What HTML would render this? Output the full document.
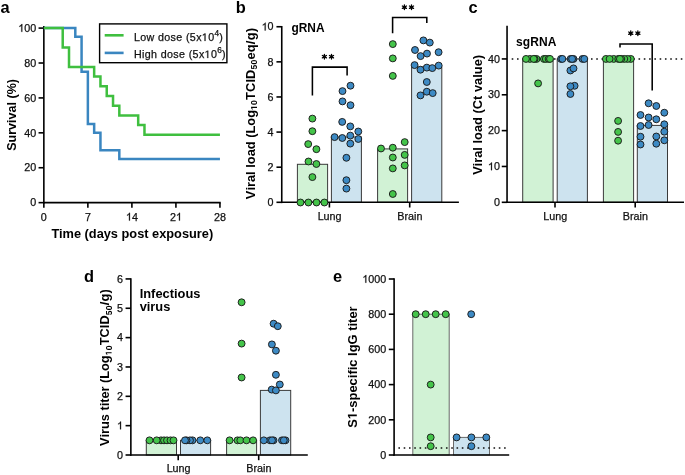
<!DOCTYPE html>
<html><head><meta charset="utf-8"><style>
html,body{margin:0;padding:0;background:#fff;}
svg{display:block;will-change:transform;font-family:"Liberation Sans",sans-serif;}
</style></head><body>
<svg width="685" height="475" viewBox="0 0 685 475">
<rect width="685" height="475" fill="#fff"/>
<rect x="297.40" y="164.30" width="30.20" height="38.00" fill="#d1f2d5" stroke="#3a3a3a" stroke-width="1"/>
<rect x="331.40" y="137.00" width="30.00" height="65.30" fill="#cde3ef" stroke="#3a3a3a" stroke-width="1"/>
<rect x="377.60" y="148.90" width="30.00" height="53.40" fill="#d1f2d5" stroke="#3a3a3a" stroke-width="1"/>
<rect x="411.60" y="67.10" width="30.20" height="135.20" fill="#cde3ef" stroke="#3a3a3a" stroke-width="1"/>
<rect x="522.70" y="58.93" width="30.40" height="143.37" fill="#d1f2d5" stroke="#3a3a3a" stroke-width="1"/>
<rect x="557.20" y="58.93" width="30.20" height="143.37" fill="#cde3ef" stroke="#3a3a3a" stroke-width="1"/>
<rect x="603.40" y="58.93" width="30.20" height="143.37" fill="#d1f2d5" stroke="#3a3a3a" stroke-width="1"/>
<rect x="637.30" y="125.40" width="30.20" height="76.90" fill="#cde3ef" stroke="#3a3a3a" stroke-width="1"/>
<rect x="146.30" y="440.33" width="30.20" height="14.67" fill="#d1f2d5" stroke="#3a3a3a" stroke-width="1"/>
<rect x="180.50" y="440.33" width="30.10" height="14.67" fill="#cde3ef" stroke="#3a3a3a" stroke-width="1"/>
<rect x="226.60" y="440.33" width="30.00" height="14.67" fill="#d1f2d5" stroke="#3a3a3a" stroke-width="1"/>
<rect x="260.40" y="390.40" width="30.30" height="64.60" fill="#cde3ef" stroke="#3a3a3a" stroke-width="1"/>
<rect x="412.80" y="314.20" width="36.40" height="140.80" fill="#d1f2d5" stroke="#6a6a6a" stroke-width="1"/>
<rect x="453.50" y="437.40" width="36.00" height="17.60" fill="#cde3ef" stroke="#6a6a6a" stroke-width="1"/>
<text x="0.40" y="12.60" font-size="16.4" text-anchor="start" font-weight="bold" fill="#000">a</text>
<line x1="43.85" y1="26.00" x2="43.85" y2="203.45" stroke="#000" stroke-width="1.6" />
<line x1="38.55" y1="28.10" x2="43.85" y2="28.10" stroke="#000" stroke-width="1.6" />
<text x="18.26" y="31.80" font-size="10.75" text-anchor="start" font-weight="normal" fill="#111" stroke="#111" stroke-width="0.25">&#8199;00</text>
<path transform="translate(18.26,31.80) scale(0.00525,-0.00525)" d="M763,0H583V1147Q518,1085 412,1023Q306,961 222,930V1104Q373,1175 486,1276Q599,1377 646,1472H763Z" fill="#111" stroke="#111" stroke-width="0.25" vector-effect="non-scaling-stroke"/>
<line x1="38.55" y1="63.01" x2="43.85" y2="63.01" stroke="#000" stroke-width="1.6" />
<text x="24.24" y="66.71" font-size="10.75" text-anchor="start" font-weight="normal" fill="#111" stroke="#111" stroke-width="0.25">80</text>
<line x1="38.55" y1="97.92" x2="43.85" y2="97.92" stroke="#000" stroke-width="1.6" />
<text x="24.24" y="101.62" font-size="10.75" text-anchor="start" font-weight="normal" fill="#111" stroke="#111" stroke-width="0.25">60</text>
<line x1="38.55" y1="132.83" x2="43.85" y2="132.83" stroke="#000" stroke-width="1.6" />
<text x="24.24" y="136.53" font-size="10.75" text-anchor="start" font-weight="normal" fill="#111" stroke="#111" stroke-width="0.25">40</text>
<line x1="38.55" y1="167.74" x2="43.85" y2="167.74" stroke="#000" stroke-width="1.6" />
<text x="24.24" y="171.44" font-size="10.75" text-anchor="start" font-weight="normal" fill="#111" stroke="#111" stroke-width="0.25">20</text>
<line x1="38.55" y1="202.65" x2="43.85" y2="202.65" stroke="#000" stroke-width="1.6" />
<text x="30.22" y="206.35" font-size="10.75" text-anchor="start" font-weight="normal" fill="#111" stroke="#111" stroke-width="0.25">0</text>
<line x1="43.05" y1="202.65" x2="220.74" y2="202.65" stroke="#000" stroke-width="1.6" />
<line x1="43.85" y1="202.65" x2="43.85" y2="207.85" stroke="#000" stroke-width="1.6" />
<line x1="87.87" y1="202.65" x2="87.87" y2="207.85" stroke="#000" stroke-width="1.6" />
<line x1="131.90" y1="202.65" x2="131.90" y2="207.85" stroke="#000" stroke-width="1.6" />
<line x1="175.92" y1="202.65" x2="175.92" y2="207.85" stroke="#000" stroke-width="1.6" />
<line x1="219.94" y1="202.65" x2="219.94" y2="207.85" stroke="#000" stroke-width="1.6" />
<text x="40.86" y="220.60" font-size="10.75" text-anchor="start" font-weight="normal" fill="#111" stroke="#111" stroke-width="0.25">0</text>
<text x="84.88" y="220.60" font-size="10.75" text-anchor="start" font-weight="normal" fill="#111" stroke="#111" stroke-width="0.25">7</text>
<text x="125.92" y="220.60" font-size="10.75" text-anchor="start" font-weight="normal" fill="#111" stroke="#111" stroke-width="0.25">&#8199;4</text>
<path transform="translate(125.92,220.60) scale(0.00525,-0.00525)" d="M763,0H583V1147Q518,1085 412,1023Q306,961 222,930V1104Q373,1175 486,1276Q599,1377 646,1472H763Z" fill="#111" stroke="#111" stroke-width="0.25" vector-effect="non-scaling-stroke"/>
<text x="169.94" y="220.60" font-size="10.75" text-anchor="start" font-weight="normal" fill="#111" stroke="#111" stroke-width="0.25">2&#8199;</text>
<path transform="translate(175.92,220.60) scale(0.00525,-0.00525)" d="M763,0H583V1147Q518,1085 412,1023Q306,961 222,930V1104Q373,1175 486,1276Q599,1377 646,1472H763Z" fill="#111" stroke="#111" stroke-width="0.25" vector-effect="non-scaling-stroke"/>
<text x="213.96" y="220.60" font-size="10.75" text-anchor="start" font-weight="normal" fill="#111" stroke="#111" stroke-width="0.25">28</text>
<text x="132.30" y="237.70" font-size="12.79" text-anchor="middle" font-weight="bold" fill="#000">Time (days post exposure)</text>
<text transform="translate(15.70,114.90) rotate(-90)" font-size="12.55" text-anchor="middle" font-weight="bold" fill="#000">Survival (%)</text>
<path d="M43.85,28.10 L75.30,28.10 L75.30,36.83 L81.58,36.83 L81.58,71.74 L87.87,71.74 L87.87,124.10 L94.16,124.10 L94.16,132.83 L100.45,132.83 L100.45,150.28 L119.32,150.28 L119.32,159.01 L219.94,159.01" fill="none" stroke="#3a86c0" stroke-width="2.5" stroke-linejoin="miter" stroke-linecap="butt"/>
<path d="M43.85,28.10 L62.72,28.10 L62.72,47.49 L69.01,47.49 L69.01,66.89 L94.16,66.89 L94.16,76.59 L100.45,76.59 L100.45,86.28 L106.74,86.28 L106.74,95.98 L113.03,95.98 L113.03,105.67 L119.32,105.67 L119.32,115.38 L138.19,115.38 L138.19,125.08 L144.47,125.08 L144.47,134.77 L219.94,134.77" fill="none" stroke="#3fbf3f" stroke-width="2.5" stroke-linejoin="miter" stroke-linecap="butt"/>
<rect x="99.6" y="23.9" width="127.3" height="38.8" fill="#fff" stroke="#000" stroke-width="1.4"/>
<line x1="104.70" y1="35.30" x2="123.60" y2="35.30" stroke="#3fbf3f" stroke-width="2.6" />
<line x1="104.70" y1="52.90" x2="123.60" y2="52.90" stroke="#3a86c0" stroke-width="2.6" />
<g transform="translate(133.90,40.90)"><text x="0.00 6.31 12.62 20.71 24.04 30.35 36.66 42.37 48.68 52.02 55.94 62.25 67.96 74.27" y="0.00" font-size="10.7" font-weight="normal" fill="#111" stroke="#111" stroke-width="0.25">Low dose (5x&#8199;0</text><path transform="translate(67.96,0.00) scale(0.00522,-0.00522)" d="M515,0H696V1409H530L197,1180V1010L515,1237Z" fill="#111" stroke="#111" stroke-width="0.25" vector-effect="non-scaling-stroke"/><text x="80.58" y="-5.10" font-size="8.3" font-weight="normal" fill="#111" stroke="#111" stroke-width="0.25">4</text><text x="85.30" y="0.00" font-size="10.7" font-weight="normal" fill="#111" stroke="#111" stroke-width="0.25">)</text></g>
<g transform="translate(133.90,58.00)"><text x="0.00 8.09 10.82 17.14 23.45 26.78 33.09 39.40 45.11 51.42 54.75 58.68 64.99 70.70 77.01" y="0.00" font-size="10.7" font-weight="normal" fill="#111" stroke="#111" stroke-width="0.25">High dose (5x&#8199;0</text><path transform="translate(70.70,0.00) scale(0.00522,-0.00522)" d="M515,0H696V1409H530L197,1180V1010L515,1237Z" fill="#111" stroke="#111" stroke-width="0.25" vector-effect="non-scaling-stroke"/><text x="83.32" y="-5.10" font-size="8.3" font-weight="normal" fill="#111" stroke="#111" stroke-width="0.25">6</text><text x="88.04" y="0.00" font-size="10.7" font-weight="normal" fill="#111" stroke="#111" stroke-width="0.25">)</text></g>
<text x="235.80" y="12.60" font-size="16.4" text-anchor="start" font-weight="bold" fill="#000">b</text>
<line x1="281.75" y1="26.00" x2="281.75" y2="203.10" stroke="#000" stroke-width="1.6" />
<line x1="276.45" y1="26.74" x2="281.75" y2="26.74" stroke="#000" stroke-width="1.6" />
<text x="261.64" y="30.44" font-size="10.75" text-anchor="start" font-weight="normal" fill="#111" stroke="#111" stroke-width="0.25">&#8199;0</text>
<path transform="translate(261.64,30.44) scale(0.00525,-0.00525)" d="M763,0H583V1147Q518,1085 412,1023Q306,961 222,930V1104Q373,1175 486,1276Q599,1377 646,1472H763Z" fill="#111" stroke="#111" stroke-width="0.25" vector-effect="non-scaling-stroke"/>
<line x1="276.45" y1="61.85" x2="281.75" y2="61.85" stroke="#000" stroke-width="1.6" />
<text x="267.62" y="65.55" font-size="10.75" text-anchor="start" font-weight="normal" fill="#111" stroke="#111" stroke-width="0.25">8</text>
<line x1="276.45" y1="96.96" x2="281.75" y2="96.96" stroke="#000" stroke-width="1.6" />
<text x="267.62" y="100.66" font-size="10.75" text-anchor="start" font-weight="normal" fill="#111" stroke="#111" stroke-width="0.25">6</text>
<line x1="276.45" y1="132.08" x2="281.75" y2="132.08" stroke="#000" stroke-width="1.6" />
<text x="267.62" y="135.78" font-size="10.75" text-anchor="start" font-weight="normal" fill="#111" stroke="#111" stroke-width="0.25">4</text>
<line x1="276.45" y1="167.19" x2="281.75" y2="167.19" stroke="#000" stroke-width="1.6" />
<text x="267.62" y="170.89" font-size="10.75" text-anchor="start" font-weight="normal" fill="#111" stroke="#111" stroke-width="0.25">2</text>
<line x1="276.45" y1="202.30" x2="281.75" y2="202.30" stroke="#000" stroke-width="1.6" />
<text x="267.62" y="206.00" font-size="10.75" text-anchor="start" font-weight="normal" fill="#111" stroke="#111" stroke-width="0.25">0</text>
<line x1="280.95" y1="202.30" x2="458.90" y2="202.30" stroke="#000" stroke-width="1.6" />
<line x1="329.40" y1="202.30" x2="329.40" y2="207.50" stroke="#000" stroke-width="1.6" />
<line x1="409.70" y1="202.30" x2="409.70" y2="207.50" stroke="#000" stroke-width="1.6" />
<text x="329.60" y="219.70" font-size="10.75" text-anchor="middle" font-weight="normal" fill="#111" stroke="#111" stroke-width="0.25">Lung</text>
<text x="409.90" y="219.70" font-size="10.75" text-anchor="middle" font-weight="normal" fill="#111" stroke="#111" stroke-width="0.25">Brain</text>
<text x="291.40" y="31.70" font-size="11.9" text-anchor="start" font-weight="bold" fill="#000" textLength="33.20" lengthAdjust="spacing">gRNA</text>
<g transform="translate(254.70,113.60) rotate(-90)"><text x="-85.56 -77.00 -73.43 -68.44 -61.30 -57.73 -54.16 -50.59 -42.75 -35.61 -27.77 -24.20 -19.92 -12.08 -4.24" y="0.00" font-size="12.84" font-weight="bold" fill="#000">Viral load (Log</text><text x="3.61 8.64" y="2.30" font-size="8.6" font-weight="bold" fill="#000">&#8199;0</text><path transform="translate(3.61,2.30) scale(0.00420,-0.00420)" d="M478,0H759V1409H493L140,1180V959L478,1170Z" fill="#000"/><text x="13.67 21.62 30.99 34.66" y="0.00" font-size="12.84" font-weight="bold" fill="#000">TCID</text><text x="44.03 49.06" y="2.30" font-size="8.6" font-weight="bold" fill="#000">50</text><text x="54.09 61.44 69.48 73.25 81.29" y="0.00" font-size="12.84" font-weight="bold" fill="#000">eq/g)</text></g>
<path d="M312.4,95.4 V67.1 H347.1 V75.4" fill="none" stroke="#000" stroke-width="1.55"/>
<path d="M324.40,59.05L324.40,54.35 M322.36,57.88L326.44,55.53 M322.36,55.53L326.44,57.88" stroke="#000" stroke-width="1.3" stroke-linecap="round" fill="none"/>
<circle cx="324.40" cy="56.70" r="1.25" fill="#000"/>
<path d="M331.50,59.05L331.50,54.35 M329.46,57.88L333.54,55.53 M329.46,55.53L333.54,57.88" stroke="#000" stroke-width="1.3" stroke-linecap="round" fill="none"/>
<circle cx="331.50" cy="56.70" r="1.25" fill="#000"/>
<path d="M392.6,33.3 V17.5 H426.8 V23.1" fill="none" stroke="#000" stroke-width="1.55"/>
<path d="M404.40,9.55L404.40,4.85 M402.36,8.38L406.44,6.03 M402.36,6.03L406.44,8.38" stroke="#000" stroke-width="1.3" stroke-linecap="round" fill="none"/>
<circle cx="404.40" cy="7.20" r="1.25" fill="#000"/>
<path d="M411.50,9.55L411.50,4.85 M409.46,8.38L413.54,6.03 M409.46,6.03L413.54,8.38" stroke="#000" stroke-width="1.3" stroke-linecap="round" fill="none"/>
<circle cx="411.50" cy="7.20" r="1.25" fill="#000"/>
<text x="468.60" y="12.60" font-size="16.4" text-anchor="start" font-weight="bold" fill="#000">c</text>
<line x1="507.05" y1="25.80" x2="507.05" y2="203.10" stroke="#000" stroke-width="1.6" />
<line x1="501.75" y1="58.93" x2="507.05" y2="58.93" stroke="#000" stroke-width="1.6" />
<text x="487.94" y="62.63" font-size="10.75" text-anchor="start" font-weight="normal" fill="#111" stroke="#111" stroke-width="0.25">40</text>
<line x1="501.75" y1="94.77" x2="507.05" y2="94.77" stroke="#000" stroke-width="1.6" />
<text x="487.94" y="98.47" font-size="10.75" text-anchor="start" font-weight="normal" fill="#111" stroke="#111" stroke-width="0.25">30</text>
<line x1="501.75" y1="130.62" x2="507.05" y2="130.62" stroke="#000" stroke-width="1.6" />
<text x="487.94" y="134.31" font-size="10.75" text-anchor="start" font-weight="normal" fill="#111" stroke="#111" stroke-width="0.25">20</text>
<line x1="501.75" y1="166.46" x2="507.05" y2="166.46" stroke="#000" stroke-width="1.6" />
<text x="487.94" y="170.16" font-size="10.75" text-anchor="start" font-weight="normal" fill="#111" stroke="#111" stroke-width="0.25">&#8199;0</text>
<path transform="translate(487.94,170.16) scale(0.00525,-0.00525)" d="M763,0H583V1147Q518,1085 412,1023Q306,961 222,930V1104Q373,1175 486,1276Q599,1377 646,1472H763Z" fill="#111" stroke="#111" stroke-width="0.25" vector-effect="non-scaling-stroke"/>
<line x1="501.75" y1="202.30" x2="507.05" y2="202.30" stroke="#000" stroke-width="1.6" />
<text x="493.92" y="206.00" font-size="10.75" text-anchor="start" font-weight="normal" fill="#111" stroke="#111" stroke-width="0.25">0</text>
<line x1="506.25" y1="202.30" x2="684.00" y2="202.30" stroke="#000" stroke-width="1.6" />
<line x1="555.00" y1="202.30" x2="555.00" y2="207.50" stroke="#000" stroke-width="1.6" />
<line x1="635.20" y1="202.30" x2="635.20" y2="207.50" stroke="#000" stroke-width="1.6" />
<text x="555.20" y="219.70" font-size="10.75" text-anchor="middle" font-weight="normal" fill="#111" stroke="#111" stroke-width="0.25">Lung</text>
<text x="635.40" y="219.70" font-size="10.75" text-anchor="middle" font-weight="normal" fill="#111" stroke="#111" stroke-width="0.25">Brain</text>
<text x="515.90" y="45.80" font-size="12.0" text-anchor="start" font-weight="bold" fill="#000" textLength="40.60" lengthAdjust="spacing">sgRNA</text>
<text transform="translate(481.80,114.85) rotate(-90)" font-size="12.86" text-anchor="middle" font-weight="bold" fill="#000">Viral load (Ct value)</text>
<line x1="511.7" y1="58.93" x2="684" y2="58.93" stroke="#111" stroke-width="1.5" stroke-dasharray="1.6 3.684"/>
<path d="M620.0,47.5 V44.0 H652.2 V90.4" fill="none" stroke="#000" stroke-width="1.55"/>
<path d="M630.75,35.55L630.75,30.85 M628.71,34.38L632.79,32.03 M628.71,32.03L632.79,34.38" stroke="#000" stroke-width="1.3" stroke-linecap="round" fill="none"/>
<circle cx="630.75" cy="33.20" r="1.25" fill="#000"/>
<path d="M637.85,35.55L637.85,30.85 M635.81,34.38L639.89,32.03 M635.81,32.03L639.89,34.38" stroke="#000" stroke-width="1.3" stroke-linecap="round" fill="none"/>
<circle cx="637.85" cy="33.20" r="1.25" fill="#000"/>
<text x="84.10" y="281.60" font-size="16.4" text-anchor="start" font-weight="bold" fill="#000">d</text>
<line x1="130.86" y1="278.20" x2="130.86" y2="455.80" stroke="#000" stroke-width="1.6" />
<line x1="125.56" y1="278.93" x2="130.86" y2="278.93" stroke="#000" stroke-width="1.6" />
<text x="117.02" y="282.63" font-size="10.75" text-anchor="start" font-weight="normal" fill="#111" stroke="#111" stroke-width="0.25">6</text>
<line x1="125.56" y1="308.27" x2="130.86" y2="308.27" stroke="#000" stroke-width="1.6" />
<text x="117.02" y="311.97" font-size="10.75" text-anchor="start" font-weight="normal" fill="#111" stroke="#111" stroke-width="0.25">5</text>
<line x1="125.56" y1="337.62" x2="130.86" y2="337.62" stroke="#000" stroke-width="1.6" />
<text x="117.02" y="341.32" font-size="10.75" text-anchor="start" font-weight="normal" fill="#111" stroke="#111" stroke-width="0.25">4</text>
<line x1="125.56" y1="366.97" x2="130.86" y2="366.97" stroke="#000" stroke-width="1.6" />
<text x="117.02" y="370.67" font-size="10.75" text-anchor="start" font-weight="normal" fill="#111" stroke="#111" stroke-width="0.25">3</text>
<line x1="125.56" y1="396.31" x2="130.86" y2="396.31" stroke="#000" stroke-width="1.6" />
<text x="117.02" y="400.01" font-size="10.75" text-anchor="start" font-weight="normal" fill="#111" stroke="#111" stroke-width="0.25">2</text>
<line x1="125.56" y1="425.65" x2="130.86" y2="425.65" stroke="#000" stroke-width="1.6" />
<text x="117.02" y="429.35" font-size="10.75" text-anchor="start" font-weight="normal" fill="#111" stroke="#111" stroke-width="0.25">&#8199;</text>
<path transform="translate(117.02,429.35) scale(0.00525,-0.00525)" d="M763,0H583V1147Q518,1085 412,1023Q306,961 222,930V1104Q373,1175 486,1276Q599,1377 646,1472H763Z" fill="#111" stroke="#111" stroke-width="0.25" vector-effect="non-scaling-stroke"/>
<line x1="125.56" y1="455.00" x2="130.86" y2="455.00" stroke="#000" stroke-width="1.6" />
<text x="117.02" y="458.70" font-size="10.75" text-anchor="start" font-weight="normal" fill="#111" stroke="#111" stroke-width="0.25">0</text>
<line x1="130.06" y1="455.00" x2="307.80" y2="455.00" stroke="#000" stroke-width="1.6" />
<line x1="178.20" y1="455.00" x2="178.20" y2="460.20" stroke="#000" stroke-width="1.6" />
<line x1="258.70" y1="455.00" x2="258.70" y2="460.20" stroke="#000" stroke-width="1.6" />
<text x="178.60" y="471.70" font-size="10.75" text-anchor="middle" font-weight="normal" fill="#111" stroke="#111" stroke-width="0.25">Lung</text>
<text x="258.90" y="471.70" font-size="10.75" text-anchor="middle" font-weight="normal" fill="#111" stroke="#111" stroke-width="0.25">Brain</text>
<text x="139.70" y="297.70" font-size="12.87" text-anchor="start" font-weight="bold" fill="#000">Infectious</text>
<text x="139.70" y="311.40" font-size="12.87" text-anchor="start" font-weight="bold" fill="#000" textLength="30.60" lengthAdjust="spacing">virus</text>
<g transform="translate(109.30,367.60) rotate(-90)"><text x="-78.35 -69.86 -66.32 -61.36 -53.58 -46.49 -42.95 -38.71 -35.17 -30.93 -23.84 -18.88 -15.34 -11.10 -3.32 4.46" y="0.00" font-size="12.74" font-weight="bold" fill="#000">Virus titer (Log</text><text x="12.25 17.25" y="2.30" font-size="8.55" font-weight="bold" fill="#000">&#8199;0</text><path transform="translate(12.25,2.30) scale(0.00417,-0.00417)" d="M478,0H759V1409H493L140,1180V959L478,1170Z" fill="#000"/><text x="22.26 30.14 39.44 43.08" y="0.00" font-size="12.74" font-weight="bold" fill="#000">TCID</text><text x="52.38 57.38" y="2.30" font-size="8.55" font-weight="bold" fill="#000">50</text><text x="62.39 66.13 74.11" y="0.00" font-size="12.74" font-weight="bold" fill="#000">/g)</text></g>
<text x="333.10" y="281.60" font-size="16.4" text-anchor="start" font-weight="bold" fill="#000">e</text>
<line x1="394.10" y1="278.30" x2="394.10" y2="455.80" stroke="#000" stroke-width="1.6" />
<line x1="388.80" y1="279.00" x2="394.10" y2="279.00" stroke="#000" stroke-width="1.6" />
<text x="362.29" y="282.70" font-size="10.75" text-anchor="start" font-weight="normal" fill="#111" stroke="#111" stroke-width="0.25">&#8199;000</text>
<path transform="translate(362.29,282.70) scale(0.00525,-0.00525)" d="M763,0H583V1147Q518,1085 412,1023Q306,961 222,930V1104Q373,1175 486,1276Q599,1377 646,1472H763Z" fill="#111" stroke="#111" stroke-width="0.25" vector-effect="non-scaling-stroke"/>
<line x1="388.80" y1="314.20" x2="394.10" y2="314.20" stroke="#000" stroke-width="1.6" />
<text x="368.26" y="317.90" font-size="10.75" text-anchor="start" font-weight="normal" fill="#111" stroke="#111" stroke-width="0.25">800</text>
<line x1="388.80" y1="349.40" x2="394.10" y2="349.40" stroke="#000" stroke-width="1.6" />
<text x="368.26" y="353.10" font-size="10.75" text-anchor="start" font-weight="normal" fill="#111" stroke="#111" stroke-width="0.25">600</text>
<line x1="388.80" y1="384.60" x2="394.10" y2="384.60" stroke="#000" stroke-width="1.6" />
<text x="368.26" y="388.30" font-size="10.75" text-anchor="start" font-weight="normal" fill="#111" stroke="#111" stroke-width="0.25">400</text>
<line x1="388.80" y1="419.80" x2="394.10" y2="419.80" stroke="#000" stroke-width="1.6" />
<text x="368.26" y="423.50" font-size="10.75" text-anchor="start" font-weight="normal" fill="#111" stroke="#111" stroke-width="0.25">200</text>
<line x1="388.80" y1="455.00" x2="394.10" y2="455.00" stroke="#000" stroke-width="1.6" />
<text x="380.22" y="458.70" font-size="10.75" text-anchor="start" font-weight="normal" fill="#111" stroke="#111" stroke-width="0.25">0</text>
<line x1="393.30" y1="455.00" x2="509.20" y2="455.00" stroke="#000" stroke-width="1.6" />
<g transform="translate(356.80,367.10) rotate(-90)"><text x="-60.72 -52.09 -44.90 -40.60 -33.40 -25.51 -18.32 -11.12 -7.53 -3.23 0.37 7.56 11.15 14.74 22.64 32.70 36.29 40.60 44.19 48.49 55.68" y="0.00" font-size="12.93" font-weight="bold" fill="#000">S&#8199;-specific IgG titer</text><path transform="translate(-52.09,0.00) scale(0.00631,-0.00631)" d="M478,0H759V1409H493L140,1180V959L478,1170Z" fill="#000"/></g>
<line x1="398.4" y1="447.96" x2="507" y2="447.96" stroke="#111" stroke-width="1.5" stroke-dasharray="1.6 3.684"/>
<circle cx="312.40" cy="118.60" r="3.45" fill="#44c44a" stroke="#1a1a1a" stroke-width="0.95"/>
<circle cx="312.40" cy="131.20" r="3.45" fill="#44c44a" stroke="#1a1a1a" stroke-width="0.95"/>
<circle cx="308.20" cy="144.10" r="3.45" fill="#44c44a" stroke="#1a1a1a" stroke-width="0.95"/>
<circle cx="316.40" cy="149.20" r="3.45" fill="#44c44a" stroke="#1a1a1a" stroke-width="0.95"/>
<circle cx="308.50" cy="161.50" r="3.45" fill="#44c44a" stroke="#1a1a1a" stroke-width="0.95"/>
<circle cx="316.40" cy="164.00" r="3.45" fill="#44c44a" stroke="#1a1a1a" stroke-width="0.95"/>
<circle cx="312.40" cy="177.10" r="3.45" fill="#44c44a" stroke="#1a1a1a" stroke-width="0.95"/>
<circle cx="300.50" cy="202.50" r="3.45" fill="#44c44a" stroke="#1a1a1a" stroke-width="0.95"/>
<circle cx="308.40" cy="202.50" r="3.45" fill="#44c44a" stroke="#1a1a1a" stroke-width="0.95"/>
<circle cx="316.50" cy="202.50" r="3.45" fill="#44c44a" stroke="#1a1a1a" stroke-width="0.95"/>
<circle cx="324.40" cy="202.50" r="3.45" fill="#44c44a" stroke="#1a1a1a" stroke-width="0.95"/>
<circle cx="350.50" cy="85.70" r="3.45" fill="#3d8ac4" stroke="#1a1a1a" stroke-width="0.95"/>
<circle cx="342.50" cy="91.10" r="3.45" fill="#3d8ac4" stroke="#1a1a1a" stroke-width="0.95"/>
<circle cx="342.50" cy="101.40" r="3.45" fill="#3d8ac4" stroke="#1a1a1a" stroke-width="0.95"/>
<circle cx="350.50" cy="105.20" r="3.45" fill="#3d8ac4" stroke="#1a1a1a" stroke-width="0.95"/>
<circle cx="342.20" cy="121.90" r="3.45" fill="#3d8ac4" stroke="#1a1a1a" stroke-width="0.95"/>
<circle cx="350.30" cy="126.40" r="3.45" fill="#3d8ac4" stroke="#1a1a1a" stroke-width="0.95"/>
<circle cx="358.30" cy="131.50" r="3.45" fill="#3d8ac4" stroke="#1a1a1a" stroke-width="0.95"/>
<circle cx="334.60" cy="137.10" r="3.45" fill="#3d8ac4" stroke="#1a1a1a" stroke-width="0.95"/>
<circle cx="342.30" cy="138.00" r="3.45" fill="#3d8ac4" stroke="#1a1a1a" stroke-width="0.95"/>
<circle cx="350.30" cy="135.60" r="3.45" fill="#3d8ac4" stroke="#1a1a1a" stroke-width="0.95"/>
<circle cx="358.30" cy="139.00" r="3.45" fill="#3d8ac4" stroke="#1a1a1a" stroke-width="0.95"/>
<circle cx="350.30" cy="143.60" r="3.45" fill="#3d8ac4" stroke="#1a1a1a" stroke-width="0.95"/>
<circle cx="346.40" cy="157.80" r="3.45" fill="#3d8ac4" stroke="#1a1a1a" stroke-width="0.95"/>
<circle cx="346.40" cy="180.20" r="3.45" fill="#3d8ac4" stroke="#1a1a1a" stroke-width="0.95"/>
<circle cx="346.40" cy="188.60" r="3.45" fill="#3d8ac4" stroke="#1a1a1a" stroke-width="0.95"/>
<circle cx="392.80" cy="44.10" r="3.45" fill="#44c44a" stroke="#1a1a1a" stroke-width="0.95"/>
<circle cx="392.80" cy="58.40" r="3.45" fill="#44c44a" stroke="#1a1a1a" stroke-width="0.95"/>
<circle cx="392.80" cy="75.90" r="3.45" fill="#44c44a" stroke="#1a1a1a" stroke-width="0.95"/>
<circle cx="381.00" cy="148.50" r="3.45" fill="#44c44a" stroke="#1a1a1a" stroke-width="0.95"/>
<circle cx="392.80" cy="147.70" r="3.45" fill="#44c44a" stroke="#1a1a1a" stroke-width="0.95"/>
<circle cx="404.70" cy="142.10" r="3.45" fill="#44c44a" stroke="#1a1a1a" stroke-width="0.95"/>
<circle cx="392.80" cy="157.50" r="3.45" fill="#44c44a" stroke="#1a1a1a" stroke-width="0.95"/>
<circle cx="404.70" cy="154.90" r="3.45" fill="#44c44a" stroke="#1a1a1a" stroke-width="0.95"/>
<circle cx="392.80" cy="168.40" r="3.45" fill="#44c44a" stroke="#1a1a1a" stroke-width="0.95"/>
<circle cx="404.70" cy="165.40" r="3.45" fill="#44c44a" stroke="#1a1a1a" stroke-width="0.95"/>
<circle cx="392.80" cy="194.00" r="3.45" fill="#44c44a" stroke="#1a1a1a" stroke-width="0.95"/>
<circle cx="423.40" cy="40.40" r="3.45" fill="#3d8ac4" stroke="#1a1a1a" stroke-width="0.95"/>
<circle cx="429.80" cy="42.60" r="3.45" fill="#3d8ac4" stroke="#1a1a1a" stroke-width="0.95"/>
<circle cx="415.00" cy="50.00" r="3.45" fill="#3d8ac4" stroke="#1a1a1a" stroke-width="0.95"/>
<circle cx="427.00" cy="53.60" r="3.45" fill="#3d8ac4" stroke="#1a1a1a" stroke-width="0.95"/>
<circle cx="420.60" cy="56.10" r="3.45" fill="#3d8ac4" stroke="#1a1a1a" stroke-width="0.95"/>
<circle cx="438.60" cy="52.20" r="3.45" fill="#3d8ac4" stroke="#1a1a1a" stroke-width="0.95"/>
<circle cx="414.60" cy="65.10" r="3.45" fill="#3d8ac4" stroke="#1a1a1a" stroke-width="0.95"/>
<circle cx="420.50" cy="69.70" r="3.45" fill="#3d8ac4" stroke="#1a1a1a" stroke-width="0.95"/>
<circle cx="426.80" cy="67.60" r="3.45" fill="#3d8ac4" stroke="#1a1a1a" stroke-width="0.95"/>
<circle cx="432.30" cy="68.10" r="3.45" fill="#3d8ac4" stroke="#1a1a1a" stroke-width="0.95"/>
<circle cx="438.70" cy="65.60" r="3.45" fill="#3d8ac4" stroke="#1a1a1a" stroke-width="0.95"/>
<circle cx="426.80" cy="82.00" r="3.45" fill="#3d8ac4" stroke="#1a1a1a" stroke-width="0.95"/>
<circle cx="420.50" cy="95.40" r="3.45" fill="#3d8ac4" stroke="#1a1a1a" stroke-width="0.95"/>
<circle cx="426.80" cy="91.70" r="3.45" fill="#3d8ac4" stroke="#1a1a1a" stroke-width="0.95"/>
<circle cx="432.70" cy="93.10" r="3.45" fill="#3d8ac4" stroke="#1a1a1a" stroke-width="0.95"/>
<circle cx="529.90" cy="58.93" r="3.45" fill="#44c44a" stroke="#1a1a1a" stroke-width="0.95"/>
<circle cx="536.50" cy="58.93" r="3.45" fill="#44c44a" stroke="#1a1a1a" stroke-width="0.95"/>
<circle cx="534.50" cy="58.93" r="3.45" fill="#44c44a" stroke="#1a1a1a" stroke-width="0.95"/>
<circle cx="543.90" cy="58.93" r="3.45" fill="#44c44a" stroke="#1a1a1a" stroke-width="0.95"/>
<circle cx="545.80" cy="58.93" r="3.45" fill="#44c44a" stroke="#1a1a1a" stroke-width="0.95"/>
<circle cx="548.60" cy="58.93" r="3.45" fill="#44c44a" stroke="#1a1a1a" stroke-width="0.95"/>
<circle cx="550.00" cy="58.93" r="3.45" fill="#44c44a" stroke="#1a1a1a" stroke-width="0.95"/>
<circle cx="533.70" cy="58.93" r="3.45" fill="#44c44a" stroke="#1a1a1a" stroke-width="0.95"/>
<circle cx="526.00" cy="58.93" r="3.45" fill="#44c44a" stroke="#1a1a1a" stroke-width="0.95"/>
<circle cx="538.10" cy="83.40" r="3.45" fill="#44c44a" stroke="#1a1a1a" stroke-width="0.95"/>
<circle cx="561.00" cy="58.93" r="3.45" fill="#3d8ac4" stroke="#1a1a1a" stroke-width="0.95"/>
<circle cx="570.60" cy="58.93" r="3.45" fill="#3d8ac4" stroke="#1a1a1a" stroke-width="0.95"/>
<circle cx="573.50" cy="58.93" r="3.45" fill="#3d8ac4" stroke="#1a1a1a" stroke-width="0.95"/>
<circle cx="582.50" cy="58.93" r="3.45" fill="#3d8ac4" stroke="#1a1a1a" stroke-width="0.95"/>
<circle cx="562.40" cy="58.93" r="3.45" fill="#3d8ac4" stroke="#1a1a1a" stroke-width="0.95"/>
<circle cx="572.10" cy="58.93" r="3.45" fill="#3d8ac4" stroke="#1a1a1a" stroke-width="0.95"/>
<circle cx="584.30" cy="58.93" r="3.45" fill="#3d8ac4" stroke="#1a1a1a" stroke-width="0.95"/>
<circle cx="570.40" cy="70.50" r="3.45" fill="#3d8ac4" stroke="#1a1a1a" stroke-width="0.95"/>
<circle cx="573.50" cy="68.40" r="3.45" fill="#3d8ac4" stroke="#1a1a1a" stroke-width="0.95"/>
<circle cx="574.60" cy="85.80" r="3.45" fill="#3d8ac4" stroke="#1a1a1a" stroke-width="0.95"/>
<circle cx="570.40" cy="86.30" r="3.45" fill="#3d8ac4" stroke="#1a1a1a" stroke-width="0.95"/>
<circle cx="570.40" cy="94.00" r="3.45" fill="#3d8ac4" stroke="#1a1a1a" stroke-width="0.95"/>
<circle cx="605.90" cy="58.93" r="3.45" fill="#44c44a" stroke="#1a1a1a" stroke-width="0.95"/>
<circle cx="613.70" cy="58.93" r="3.45" fill="#44c44a" stroke="#1a1a1a" stroke-width="0.95"/>
<circle cx="618.30" cy="58.93" r="3.45" fill="#44c44a" stroke="#1a1a1a" stroke-width="0.95"/>
<circle cx="630.80" cy="58.93" r="3.45" fill="#44c44a" stroke="#1a1a1a" stroke-width="0.95"/>
<circle cx="627.50" cy="58.93" r="3.45" fill="#44c44a" stroke="#1a1a1a" stroke-width="0.95"/>
<circle cx="624.30" cy="58.93" r="3.45" fill="#44c44a" stroke="#1a1a1a" stroke-width="0.95"/>
<circle cx="621.30" cy="58.93" r="3.45" fill="#44c44a" stroke="#1a1a1a" stroke-width="0.95"/>
<circle cx="619.90" cy="58.93" r="3.45" fill="#44c44a" stroke="#1a1a1a" stroke-width="0.95"/>
<circle cx="609.60" cy="58.93" r="3.45" fill="#44c44a" stroke="#1a1a1a" stroke-width="0.95"/>
<circle cx="618.10" cy="120.90" r="3.45" fill="#44c44a" stroke="#1a1a1a" stroke-width="0.95"/>
<circle cx="618.10" cy="131.90" r="3.45" fill="#44c44a" stroke="#1a1a1a" stroke-width="0.95"/>
<circle cx="618.10" cy="140.70" r="3.45" fill="#44c44a" stroke="#1a1a1a" stroke-width="0.95"/>
<circle cx="648.60" cy="103.30" r="3.45" fill="#3d8ac4" stroke="#1a1a1a" stroke-width="0.95"/>
<circle cx="656.30" cy="106.00" r="3.45" fill="#3d8ac4" stroke="#1a1a1a" stroke-width="0.95"/>
<circle cx="664.30" cy="112.70" r="3.45" fill="#3d8ac4" stroke="#1a1a1a" stroke-width="0.95"/>
<circle cx="640.50" cy="115.00" r="3.45" fill="#3d8ac4" stroke="#1a1a1a" stroke-width="0.95"/>
<circle cx="648.60" cy="117.50" r="3.45" fill="#3d8ac4" stroke="#1a1a1a" stroke-width="0.95"/>
<circle cx="656.30" cy="119.30" r="3.45" fill="#3d8ac4" stroke="#1a1a1a" stroke-width="0.95"/>
<circle cx="640.50" cy="126.00" r="3.45" fill="#3d8ac4" stroke="#1a1a1a" stroke-width="0.95"/>
<circle cx="648.60" cy="125.00" r="3.45" fill="#3d8ac4" stroke="#1a1a1a" stroke-width="0.95"/>
<circle cx="664.30" cy="124.30" r="3.45" fill="#3d8ac4" stroke="#1a1a1a" stroke-width="0.95"/>
<circle cx="664.30" cy="131.70" r="3.45" fill="#3d8ac4" stroke="#1a1a1a" stroke-width="0.95"/>
<circle cx="640.50" cy="136.70" r="3.45" fill="#3d8ac4" stroke="#1a1a1a" stroke-width="0.95"/>
<circle cx="656.30" cy="136.50" r="3.45" fill="#3d8ac4" stroke="#1a1a1a" stroke-width="0.95"/>
<circle cx="664.30" cy="140.30" r="3.45" fill="#3d8ac4" stroke="#1a1a1a" stroke-width="0.95"/>
<circle cx="640.50" cy="144.50" r="3.45" fill="#3d8ac4" stroke="#1a1a1a" stroke-width="0.95"/>
<circle cx="656.30" cy="143.70" r="3.45" fill="#3d8ac4" stroke="#1a1a1a" stroke-width="0.95"/>
<circle cx="161.00" cy="440.33" r="3.45" fill="#44c44a" stroke="#1a1a1a" stroke-width="0.95"/>
<circle cx="164.00" cy="440.33" r="3.45" fill="#44c44a" stroke="#1a1a1a" stroke-width="0.95"/>
<circle cx="167.00" cy="440.33" r="3.45" fill="#44c44a" stroke="#1a1a1a" stroke-width="0.95"/>
<circle cx="170.50" cy="440.33" r="3.45" fill="#44c44a" stroke="#1a1a1a" stroke-width="0.95"/>
<circle cx="173.50" cy="440.33" r="3.45" fill="#44c44a" stroke="#1a1a1a" stroke-width="0.95"/>
<circle cx="156.70" cy="440.33" r="3.45" fill="#44c44a" stroke="#1a1a1a" stroke-width="0.95"/>
<circle cx="149.50" cy="440.33" r="3.45" fill="#44c44a" stroke="#1a1a1a" stroke-width="0.95"/>
<circle cx="192.50" cy="440.33" r="3.45" fill="#3d8ac4" stroke="#1a1a1a" stroke-width="0.95"/>
<circle cx="190.00" cy="440.33" r="3.45" fill="#3d8ac4" stroke="#1a1a1a" stroke-width="0.95"/>
<circle cx="186.50" cy="440.33" r="3.45" fill="#3d8ac4" stroke="#1a1a1a" stroke-width="0.95"/>
<circle cx="185.00" cy="440.33" r="3.45" fill="#3d8ac4" stroke="#1a1a1a" stroke-width="0.95"/>
<circle cx="200.30" cy="440.33" r="3.45" fill="#3d8ac4" stroke="#1a1a1a" stroke-width="0.95"/>
<circle cx="207.30" cy="440.33" r="3.45" fill="#3d8ac4" stroke="#1a1a1a" stroke-width="0.95"/>
<circle cx="237.50" cy="440.33" r="3.45" fill="#44c44a" stroke="#1a1a1a" stroke-width="0.95"/>
<circle cx="229.60" cy="440.33" r="3.45" fill="#44c44a" stroke="#1a1a1a" stroke-width="0.95"/>
<circle cx="240.30" cy="440.33" r="3.45" fill="#44c44a" stroke="#1a1a1a" stroke-width="0.95"/>
<circle cx="246.50" cy="440.33" r="3.45" fill="#44c44a" stroke="#1a1a1a" stroke-width="0.95"/>
<circle cx="253.10" cy="440.33" r="3.45" fill="#44c44a" stroke="#1a1a1a" stroke-width="0.95"/>
<circle cx="241.60" cy="302.30" r="3.45" fill="#44c44a" stroke="#1a1a1a" stroke-width="0.95"/>
<circle cx="241.60" cy="343.60" r="3.45" fill="#44c44a" stroke="#1a1a1a" stroke-width="0.95"/>
<circle cx="241.60" cy="377.50" r="3.45" fill="#44c44a" stroke="#1a1a1a" stroke-width="0.95"/>
<circle cx="270.00" cy="440.33" r="3.45" fill="#3d8ac4" stroke="#1a1a1a" stroke-width="0.95"/>
<circle cx="273.50" cy="440.33" r="3.45" fill="#3d8ac4" stroke="#1a1a1a" stroke-width="0.95"/>
<circle cx="282.00" cy="440.33" r="3.45" fill="#3d8ac4" stroke="#1a1a1a" stroke-width="0.95"/>
<circle cx="285.50" cy="440.33" r="3.45" fill="#3d8ac4" stroke="#1a1a1a" stroke-width="0.95"/>
<circle cx="263.80" cy="440.33" r="3.45" fill="#3d8ac4" stroke="#1a1a1a" stroke-width="0.95"/>
<circle cx="272.00" cy="440.33" r="3.45" fill="#3d8ac4" stroke="#1a1a1a" stroke-width="0.95"/>
<circle cx="283.80" cy="440.33" r="3.45" fill="#3d8ac4" stroke="#1a1a1a" stroke-width="0.95"/>
<circle cx="273.60" cy="323.70" r="3.45" fill="#3d8ac4" stroke="#1a1a1a" stroke-width="0.95"/>
<circle cx="277.80" cy="326.20" r="3.45" fill="#3d8ac4" stroke="#1a1a1a" stroke-width="0.95"/>
<circle cx="271.90" cy="344.40" r="3.45" fill="#3d8ac4" stroke="#1a1a1a" stroke-width="0.95"/>
<circle cx="275.90" cy="350.70" r="3.45" fill="#3d8ac4" stroke="#1a1a1a" stroke-width="0.95"/>
<circle cx="275.90" cy="374.80" r="3.45" fill="#3d8ac4" stroke="#1a1a1a" stroke-width="0.95"/>
<circle cx="279.80" cy="384.50" r="3.45" fill="#3d8ac4" stroke="#1a1a1a" stroke-width="0.95"/>
<circle cx="271.70" cy="389.60" r="3.45" fill="#3d8ac4" stroke="#1a1a1a" stroke-width="0.95"/>
<circle cx="275.90" cy="390.40" r="3.45" fill="#3d8ac4" stroke="#1a1a1a" stroke-width="0.95"/>
<circle cx="415.70" cy="314.20" r="3.45" fill="#44c44a" stroke="#1a1a1a" stroke-width="0.95"/>
<circle cx="425.70" cy="314.20" r="3.45" fill="#44c44a" stroke="#1a1a1a" stroke-width="0.95"/>
<circle cx="435.70" cy="314.20" r="3.45" fill="#44c44a" stroke="#1a1a1a" stroke-width="0.95"/>
<circle cx="445.70" cy="314.20" r="3.45" fill="#44c44a" stroke="#1a1a1a" stroke-width="0.95"/>
<circle cx="430.70" cy="384.60" r="3.45" fill="#44c44a" stroke="#1a1a1a" stroke-width="0.95"/>
<circle cx="430.70" cy="437.40" r="3.45" fill="#44c44a" stroke="#1a1a1a" stroke-width="0.95"/>
<circle cx="430.70" cy="446.20" r="3.45" fill="#44c44a" stroke="#1a1a1a" stroke-width="0.95"/>
<circle cx="471.20" cy="314.20" r="3.45" fill="#3d8ac4" stroke="#1a1a1a" stroke-width="0.95"/>
<circle cx="456.60" cy="437.40" r="3.45" fill="#3d8ac4" stroke="#1a1a1a" stroke-width="0.95"/>
<circle cx="471.40" cy="437.40" r="3.45" fill="#3d8ac4" stroke="#1a1a1a" stroke-width="0.95"/>
<circle cx="486.30" cy="437.40" r="3.45" fill="#3d8ac4" stroke="#1a1a1a" stroke-width="0.95"/>
<circle cx="471.40" cy="446.20" r="3.45" fill="#3d8ac4" stroke="#1a1a1a" stroke-width="0.95"/>
</svg>
</body></html>
